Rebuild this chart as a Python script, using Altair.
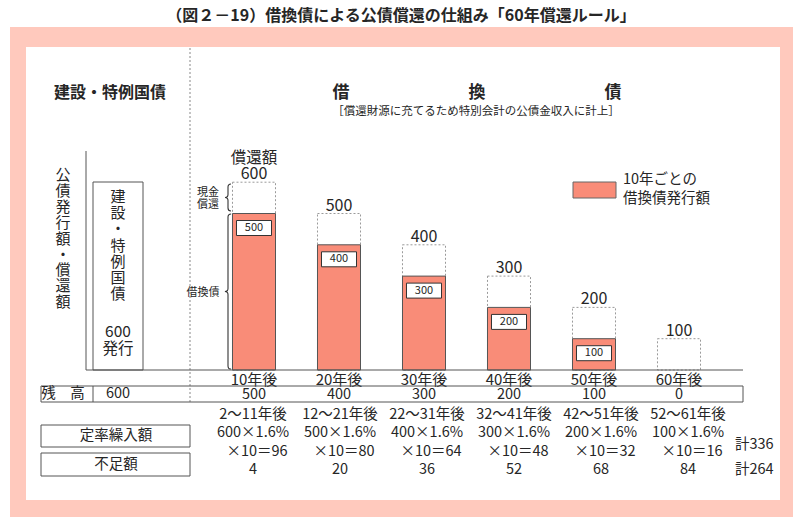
import altair as alt
import pandas as pd

# ---------------- data ----------------
after_labels = ["10年後", "20年後", "30年後", "40年後", "50年後", "60年後"]
repayment = [600, 500, 400, 300, 200, 100]        # 償還額
refinanced = [500, 400, 300, 200, 100, 0]         # 10年ごとの借換債発行額
balance = [500, 400, 300, 200, 100, 0]            # 残高
initial_issue = 600
periods = ["2～11年後", "12～21年後", "22～31年後", "32～41年後", "42～51年後", "52～61年後"]
base_balance = [600, 500, 400, 300, 200, 100]
rate_label = "1.6%"
fixed_transfer = [96, 80, 64, 48, 32, 16]         # 定率繰入額
shortfall = [4, 20, 36, 52, 68, 84]               # 不足額

title_text = "（図２－19）借換債による公債償還の仕組み「60年償還ルール」"
subtitle_text = "［償還財源に充てるため特別会計の公債金収入に計上］"

# ---------------- styles / layout ----------------
FONT = "Noto Sans CJK JP"
TXT = "#262626"
RED = "#F98C78"
PINK = "#FFC9BD"
W, H = 800, 524
PX_PER_SLOT = 85.0
SLOT0_PX = 254.0
BASE_PX = 370.0
PX_PER_UNIT = 0.313

xs = alt.Scale(domain=[-SLOT0_PX / PX_PER_SLOT, (W - SLOT0_PX) / PX_PER_SLOT], nice=False, zero=False)
ys = alt.Scale(domain=[-(H - BASE_PX) / PX_PER_UNIT, BASE_PX / PX_PER_UNIT], nice=False, zero=False)

def X(f):
    return alt.X(f, type="quantitative", scale=xs, axis=None)

def X2(f):
    return alt.X2(f)

def Y(f):
    return alt.Y(f, type="quantitative", scale=ys, axis=None)

df = pd.DataFrame({
    "slot": list(range(len(after_labels))),
    "label": after_labels,
    "repay": repayment,
    "refi": refinanced,
    "bal": [str(b) for b in balance],
    "period": periods,
    "f1": [f"{b}×{rate_label}" for b in base_balance],
    "f2": [f"×10＝{v}" for v in fixed_transfer],
    "short": [str(s) for s in shortfall],
    "zero": [0] * len(after_labels),
})

one = pd.DataFrame({"k": [0]})


def ctext(text, x, y, size=14.5, weight="normal", align="center", color=TXT, **kw):
    return alt.Chart(one).mark_text(
        text=text, fontSize=size, fontWeight=weight, align=align, baseline="middle",
        font=FONT, color=color, **kw
    ).encode(x=alt.value(x), y=alt.value(y))


def cbox(x1, x2, y1, y2, fill=None, stroke=None, sw=1.0, dash=None):
    kw = {}
    if fill is not None:
        kw["fill"] = fill
    else:
        kw["fill"] = "#ffffff"
        kw["fillOpacity"] = 0
    if stroke is not None:
        kw["stroke"] = stroke
        kw["strokeWidth"] = sw
    if dash is not None:
        kw["strokeDash"] = dash
    return alt.Chart(one).mark_rect(**kw).encode(
        x=alt.value(x1), x2=alt.value(x2), y=alt.value(y1), y2=alt.value(y2))


def vrule(x, y1, y2, color="#444", sw=1.0, dash=None):
    kw = dict(color=color, strokeWidth=sw)
    if dash is not None:
        kw["strokeDash"] = dash
    return alt.Chart(one).mark_rule(**kw).encode(x=alt.value(x), y=alt.value(y1), y2=alt.value(y2))


def hrule(y, x1, x2, color="#444", sw=1.0):
    return alt.Chart(one).mark_rule(color=color, strokeWidth=sw).encode(
        y=alt.value(y), x=alt.value(x1), x2=alt.value(x2))


def brace(x, y, shape, size):
    return alt.Chart(one).mark_point(shape=shape, size=size, filled=False, color="#333",
                                     strokeWidth=1.1, opacity=1).encode(
        x=alt.value(x), y=alt.value(y))


layers = []

# frame
layers.append(cbox(10, 793, 27, 517, fill=PINK))
layers.append(cbox(26, 780, 47, 500, fill="#ffffff"))
layers.append(ctext(title_text, 401, 16, size=16, weight="bold"))

# dashed separator
layers.append(vrule(190, 48, 403, color="#888", sw=1, dash=[2, 2]))

# headers
layers.append(ctext("建設・特例国債", 110, 93, size=16, weight="bold"))
for ch, xx in zip(["借", "換", "債"], [341, 477, 613]):
    layers.append(ctext(ch, xx, 93, size=17, weight="bold"))
layers.append(ctext(subtitle_text, 476, 112, size=11.5))

# left panel (vertical texts: y = centre of first character)
layers.append(ctext(list("公債発行額・償還額"), 63, 175, size=15, lineHeight=15.9))
layers.append(vrule(86, 151, 370, color="#555"))
layers.append(cbox(93, 143, 182, 370, stroke="#555"))
layers.append(ctext(list("建設・特例国債"), 118, 197, size=15, lineHeight=16.2))
layers.append(ctext(str(initial_issue), 118, 332, size=15.5))
layers.append(ctext("発行", 118, 349, size=15.5))

# bars: total repayment (white, dotted)
layers.append(
    alt.Chart(df).transform_calculate(x1="datum.slot - 0.253", x2="datum.slot + 0.253")
    .mark_rect(fill="#ffffff", stroke="#9a9a9a", strokeWidth=1, strokeDash=[2, 2])
    .encode(x=X("x1"), x2=X2("x2"), y=Y("repay"), y2=alt.Y2("zero"))
)
# refinanced part (red)
layers.append(
    alt.Chart(df).transform_filter("datum.refi > 0")
    .transform_calculate(x1="datum.slot - 0.253", x2="datum.slot + 0.253")
    .mark_rect(fill=RED, stroke="#555", strokeWidth=1)
    .encode(x=X("x1"), x2=X2("x2"), y=Y("refi"), y2=alt.Y2("zero"))
)
# value boxes inside red bars
layers.append(
    alt.Chart(df).transform_filter("datum.refi > 0")
    .transform_calculate(x1="datum.slot - 0.206", x2="datum.slot + 0.206",
                         yt="datum.refi - 22.4", yb="datum.refi - 70.3")
    .mark_rect(fill="#ffffff", stroke="#333", strokeWidth=1)
    .encode(x=X("x1"), x2=X2("x2"), y=Y("yt"), y2=alt.Y2("yb"))
)
layers.append(
    alt.Chart(df).transform_filter("datum.refi > 0")
    .transform_calculate(yc="datum.refi - 46.3")
    .mark_text(fontSize=11, font=FONT, color=TXT, baseline="middle")
    .encode(x=X("slot"), y=Y("yc"), text="refi:Q")
)
# repayment totals on top
layers.append(
    alt.Chart(df).mark_text(fontSize=16, font=FONT, color=TXT, baseline="middle", dy=-8)
    .encode(x=X("slot"), y=Y("repay"), text="repay:Q")
)
layers.append(
    alt.Chart(df).transform_filter("datum.slot == 0")
    .mark_text(text="償還額", fontSize=15.5, font=FONT, color=TXT, baseline="middle", dy=-24)
    .encode(x=X("slot"), y=Y("repay"))
)

# braces and their labels
small_brace = "M0.22,-1 Q0,-1 0,-0.78 L0,-0.22 Q0,0 -0.22,0 Q0,0 0,0.22 L0,0.78 Q0,1 0.22,1"
big_brace = "M0.04,-1 Q0,-1 0,-0.96 L0,-0.04 Q0,0 -0.04,0 Q0,0 0,0.04 L0,0.96 Q0,1 0.04,1"
layers.append(brace(228, 197.5, small_brace, 27 * 27))
layers.append(brace(228, 291.5, big_brace, 155 * 155))
layers.append(ctext(["現金", "償還"], 208, 193, size=11, lineHeight=12))
layers.append(ctext("借換債", 203, 293, size=11))

# baseline axis
layers.append(hrule(370, 86, 743, color="#555"))
layers.append(
    alt.Chart(df).mark_text(fontSize=15, font=FONT, color=TXT, baseline="middle")
    .encode(x=X("slot"), y=alt.value(380), text="label:N")
)

# balance row
layers.append(cbox(41, 743, 386, 402, stroke="#555"))
layers.append(vrule(93, 386, 402, color="#555"))
layers.append(ctext("残　高", 63, 394, size=14.5))
layers.append(ctext(str(initial_issue), 118, 394, size=14.5))
layers.append(
    alt.Chart(df).mark_text(fontSize=14.5, font=FONT, color=TXT, baseline="middle")
    .encode(x=X("slot"), y=alt.value(395), text="bal:N")
)

# bottom table
layers.append(cbox(41, 190, 425, 447, stroke="#555"))
layers.append(cbox(41, 190, 453, 476, stroke="#555"))
layers.append(ctext("定率繰入額", 116, 436, size=14.5))
layers.append(ctext("不足額", 116, 464.5, size=14.5))

colcalc = dict(cx="datum.slot * 87 / 85 - 1 / 85")
for field, ypx, dx in [("period", 415, 0), ("f1", 433, 0), ("f2", 452, 4), ("short", 470, 0)]:
    layers.append(
        alt.Chart(df).transform_calculate(**colcalc)
        .mark_text(fontSize=14.5, font=FONT, color=TXT, baseline="middle", dx=dx)
        .encode(x=X("cx"), y=alt.value(ypx), text=f"{field}:N")
    )
layers.append(ctext(f"計{sum(fixed_transfer)}", 735, 445, size=14.5, align="left"))
layers.append(ctext(f"計{sum(shortfall)}", 735, 470, size=14.5, align="left"))

# legend
layers.append(cbox(573, 616, 182, 198, fill=RED, stroke="#666"))
layers.append(ctext("10年ごとの", 623, 180, size=14.5, align="left"))
layers.append(ctext("借換債発行額", 623, 199, size=14.5, align="left"))

chart = alt.layer(*layers).properties(
    width=W, height=H, padding=0, autosize=alt.AutoSizeParams(type="none"),
    background="#ffffff",
).configure_view(strokeWidth=0)

chart.save("out.html", embed_options={"renderer": "svg", "actions": False})
